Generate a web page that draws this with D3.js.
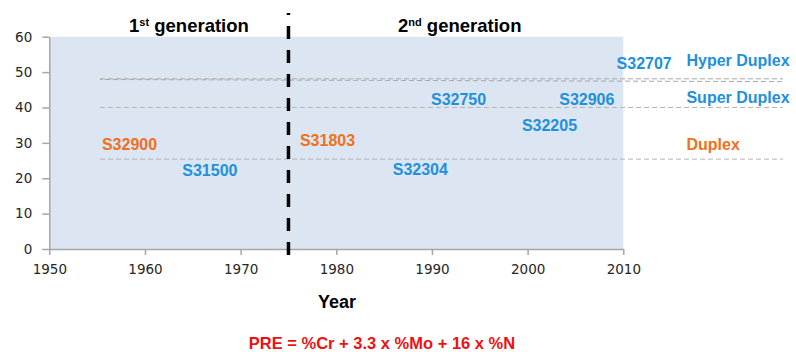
<!DOCTYPE html>
<html>
<head>
<meta charset="utf-8">
<script src="https://cdn.jsdelivr.net/npm/d3@7"></script>
<style>
  body { margin: 0; background: #fff; }
  svg { display: block; }
</style>
</head>
<body>
<script>
// grades: name, year where the label starts, PRE value at label centre, family
var gradeNames  = ["S32900", "S31500", "S31803", "S32304", "S32750", "S32906", "S32205", "S32707"];
var gradeYears  = [1955.5, 1963.9, 1976.2, 1985.9, 1989.9, 2003.3, 1999.4, 2009.3];
var gradePRE    = [29.7, 22.3, 30.8, 22.6, 42.4, 42.4, 35.0, 52.5];
var gradeFamily = ["lean", "std", "lean", "std", "std", "std", "std", "std"];

// PRE class thresholds
var classNames    = ["Hyper Duplex", "Super Duplex", "Duplex"];
var classPRE      = [48, 40, 25.4];
var classLabelPRE = [53.4, 43, 29.7];
var classFamily   = ["std", "std", "lean"];
var lineStart = 1955.3, lineEnd = 2026.7, labelYear = 2016.6;

var genNames   = ["1", "2"];
var genSup     = ["st", "nd"];
var genCentre  = [1964.6, 1992.9];
var dividerYear = 1975;

var xTicks = [1950, 1960, 1970, 1980, 1990, 2000, 2010];
var yTicks = [0, 10, 20, 30, 40, 50, 60];

var colors = {lean: "#f07020", std: "#1e90dc"};

var svg = d3.select("body").append("svg")
    .attr("width", 796)
    .attr("height", 352);

var x = d3.scaleLinear().domain([1950, 2010]).range([49.3, 623.3]);
var y = d3.scaleLinear().domain([0, 60]).range([249, 36.7]);

// plot background
svg.append("rect")
    .attr("x", x(1950))
    .attr("y", y(60))
    .attr("width", x(2010) - x(1950))
    .attr("height", y(0) - y(60))
    .attr("fill", "#dce6f2");

// axes
var xAxis = d3.axisBottom(x).tickValues(xTicks).tickFormat(d3.format("d"))
    .tickSize(6).tickSizeOuter(0).tickPadding(9);
var yAxis = d3.axisLeft(y).tickValues(yTicks)
    .tickSize(7).tickSizeOuter(0).tickPadding(10);

var gx = svg.append("g").attr("transform", "translate(0," + y(0) + ")").call(xAxis);
var gy = svg.append("g").attr("transform", "translate(" + x(1950) + ",0)").call(yAxis);

[gx, gy].forEach(function(g) {
    g.select(".domain").attr("stroke", "#a6a6a6").attr("stroke-width", 1.5);
    g.selectAll(".tick line").attr("stroke", "#a6a6a6").attr("stroke-width", 1.5);
    g.selectAll(".tick text")
        .attr("fill", "#262626")
        .attr("font-family", "DejaVu Sans")
        .attr("font-size", "13.5px");
});

// threshold lines
var hyperDup = [[48.1, 48.1], [47.9, 47.3]];
hyperDup.forEach(function(v, i) {
    svg.append("line")
        .attr("x1", x(lineStart)).attr("y1", y(v[0]))
        .attr("x2", x(lineEnd)).attr("y2", y(v[1]))
        .attr("stroke", "#a8a8a8")
        .attr("stroke-width", 1)
        .attr("stroke-dasharray", "5,3")
        .attr("stroke-dashoffset", i * 3);
});
classPRE.slice(1).forEach(function(v) {
    svg.append("line")
        .attr("x1", x(lineStart)).attr("y1", y(v))
        .attr("x2", x(lineEnd)).attr("y2", y(v))
        .attr("stroke", "#b4b4b4")
        .attr("stroke-width", 1)
        .attr("stroke-dasharray", "5,3");
});

// generation divider
svg.append("line")
    .attr("x1", x(dividerYear)).attr("y1", 13)
    .attr("x2", x(dividerYear)).attr("y2", 257)
    .attr("stroke", "#000")
    .attr("stroke-width", 3.5)
    .attr("stroke-dasharray", "13,11")
    .attr("stroke-dashoffset", 11);

// grade labels
svg.selectAll("text.grade")
    .data(gradeNames)
    .enter()
    .append("text")
    .attr("class", "grade")
    .attr("x", function(d, i) { return x(gradeYears[i]); })
    .attr("y", function(d, i) { return y(gradePRE[i]); })
    .attr("dy", "0.36em")
    .attr("fill", function(d, i) { return colors[gradeFamily[i]]; })
    .attr("font-family", "Liberation Sans, Arial, sans-serif")
    .attr("font-weight", "bold")
    .attr("font-size", "16px")
    .text(function(d) { return d; });

// class labels
svg.selectAll("text.cls")
    .data(classNames)
    .enter()
    .append("text")
    .attr("class", "cls")
    .attr("x", x(labelYear))
    .attr("y", function(d, i) { return y(classLabelPRE[i]); })
    .attr("dy", "0.36em")
    .attr("fill", function(d, i) { return colors[classFamily[i]]; })
    .attr("font-family", "Liberation Sans, Arial, sans-serif")
    .attr("font-weight", "bold")
    .attr("font-size", "16px")
    .text(function(d) { return d; });

// generation titles
genNames.forEach(function(g, i) {
    var t = svg.append("text")
        .attr("x", x(genCentre[i]))
        .attr("y", 32)
        .attr("text-anchor", "middle")
        .attr("fill", "#000")
        .attr("font-family", "Liberation Sans, Arial, sans-serif")
        .attr("font-weight", "bold")
        .attr("font-size", "18.5px");
    t.append("tspan").text(g);
    t.append("tspan").attr("dy", "-6").attr("font-size", "11px").text(genSup[i]);
    t.append("tspan").attr("dy", "6").text(" generation");
});

// axis title
svg.append("text")
    .attr("x", 337)
    .attr("y", 308)
    .attr("text-anchor", "middle")
    .attr("font-family", "Liberation Sans, Arial, sans-serif")
    .attr("font-weight", "bold")
    .attr("font-size", "18px")
    .text("Year");

// formula
svg.append("text")
    .attr("x", 382)
    .attr("y", 349)
    .attr("text-anchor", "middle")
    .attr("fill", "#ee1111")
    .attr("font-family", "Liberation Sans, Arial, sans-serif")
    .attr("font-weight", "bold")
    .attr("font-size", "16.5px")
    .text("PRE = %Cr + 3.3 x %Mo + 16 x %N");
</script>
</body>
</html>
